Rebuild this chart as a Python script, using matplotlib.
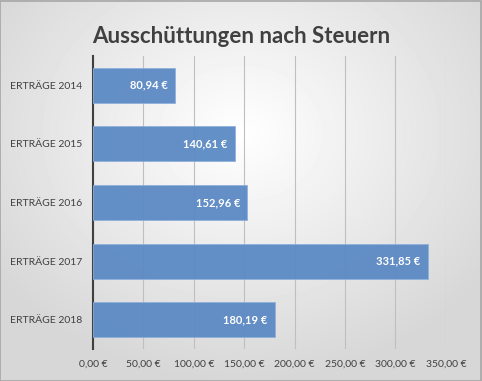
import matplotlib.pyplot as plt
import numpy as np

categories = ['ERTRÄGE 2014', 'ERTRÄGE 2015', 'ERTRÄGE 2016', 'ERTRÄGE 2017', 'ERTRÄGE 2018']
values = [80.94, 140.61, 152.96, 331.85, 180.19]
ticks = [0, 50, 100, 150, 200, 250, 300, 350]


def euro(v):
    return f'{v:,.2f} €'.replace(',', 'X').replace('.', ',').replace('X', '.')


plt.rcParams['font.family'] = ['Lato', 'DejaVu Sans']

fig = plt.figure(figsize=(4.82, 3.81), dpi=100)

# radial gradient background
bg = fig.add_axes([0, 0, 1, 1], zorder=-10)
yy, xx = np.mgrid[-1:1:381j, -1:1:482j]
r = np.sqrt(xx ** 2 + (yy + 0.3) ** 2 * 0.9)
bg.imshow(1 - 0.16 * np.clip(r / 1.25, 0, 1), cmap='gray', vmin=0, vmax=1,
          aspect='auto', extent=[0, 1, 0, 1])
bg.set_xlim(0, 1)
bg.set_ylim(0, 1)
bg.add_patch(plt.Rectangle((0.001, 0.001), 0.997, 0.996, fill=False,
                           edgecolor='#a6a6a6', lw=1.2))
bg.axis('off')

ax = fig.add_axes([0.193, 0.084, 0.732, 0.769])
ax.patch.set_alpha(0)
y = np.arange(len(categories))
bars = ax.barh(y, values, height=0.6, color='#5b8ac4', alpha=0.95,
               edgecolor='#8fb0dc', linewidth=0.6, zorder=3)
for b, v in zip(bars, values):
    ax.text(b.get_width() - 7, b.get_y() + b.get_height() / 2, euro(v),
            ha='right', va='center', color='white', fontsize=8,
            fontweight='bold', zorder=4)

ax.set_ylim(len(categories) - 0.5, -0.5)
ax.set_yticks(y)
ax.set_yticklabels(categories)
ax.set_xlim(0, 350)
ax.set_xticks(ticks)
ax.set_xticklabels([euro(t) for t in ticks])
ax.tick_params(axis='both', length=0, labelsize=7.5, colors='#404040')
ax.tick_params(axis='x', pad=8)
ax.tick_params(axis='y', pad=8)
ax.grid(axis='x', color='#bfbfbf', lw=0.8, zorder=0)
for s in ['top', 'right', 'bottom']:
    ax.spines[s].set_visible(False)
ax.spines['left'].set_color('#404040')
ax.spines['left'].set_linewidth(1.5)

fig.text(0.5, 0.905, 'Ausschüttungen nach Steuern', ha='center', va='center',
         fontsize=16, fontweight='bold', color='#404040')

fig.savefig('out.png', dpi=100)
